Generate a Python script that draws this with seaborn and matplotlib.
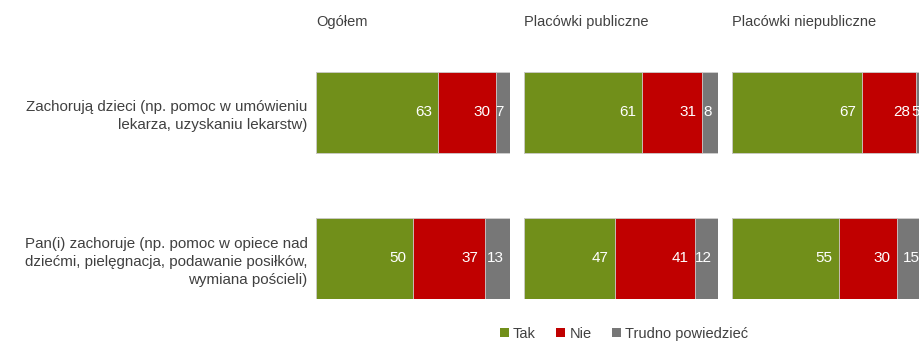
import matplotlib
matplotlib.use("Agg")
import matplotlib.pyplot as plt
import seaborn as sns
import pandas as pd
from matplotlib.patches import Patch

sns.set_theme(style="white")
plt.rcParams['font.family'] = ['Liberation Sans', 'DejaVu Sans']

panels = ["Ogółem", "Placówki publiczne", "Placówki niepubliczne"]
categories = [
    "Zachorują dzieci (np. pomoc w umówieniu\nlekarza, uzyskaniu lekarstw)",
    "Pan(i) zachoruje (np. pomoc w opiece nad\ndziećmi, pielęgnacja, podawanie posiłków,\nwymiana pościeli)",
]
series = ["Tak", "Nie", "Trudno powiedzieć"]
tak = [[63, 50], [61, 47], [67, 55]]
nie = [[30, 37], [31, 41], [28, 30]]
trudno = [[7, 13], [8, 12], [5, 15]]

colors = {"Tak": "#718F1A", "Nie": "#C00000", "Trudno powiedzieć": "#777777"}
text_col = "#404040"

W, H = 920, 342
fig = plt.figure(figsize=(W / 100, H / 100), dpi=100)

bar_w = 81 / 146
for i, title in enumerate(panels):
    left = (316 + 208 * i) / W
    ax = fig.add_axes([left, 1 - 299 / H, 194 / W, 227 / H])
    df = pd.DataFrame({
        "cat": categories,
        "Tak": tak[i], "Nie": nie[i], "Trudno powiedzieć": trudno[i],
    })
    df["c1"] = df["Tak"]
    df["c2"] = df["Tak"] + df["Nie"]
    df["c3"] = df["c2"] + df["Trudno powiedzieć"]
    for col, s in [("c3", "Trudno powiedzieć"), ("c2", "Nie"), ("c1", "Tak")]:
        sns.barplot(data=df, x=col, y="cat", orient="h", color=colors[s],
                    width=bar_w, saturation=1, ax=ax,
                    edgecolor="#D0D0D0", linewidth=0.6)
    for j in range(len(categories)):
        ends = [df.loc[j, "c1"], df.loc[j, "c2"], df.loc[j, "c3"]]
        vals = [df.loc[j, "Tak"], df.loc[j, "Nie"], df.loc[j, "Trudno powiedzieć"]]
        for e, v in zip(ends, vals):
            ax.annotate(f"{v}", xy=(e, j), xytext=(-4.5, 0), textcoords="offset points",
                        ha="right", va="center", color="white", fontsize=11)
    ax.set_xlim(0, 100)
    ax.set_ylim(1 + bar_w / 2, -bar_w / 2)
    ax.set_xlabel("")
    ax.set_ylabel("")
    ax.set_xticks([])
    for sp in ax.spines.values():
        sp.set_visible(False)
    if i == 0:
        ax.tick_params(axis="y", length=0, pad=6, labelsize=10.9, labelcolor=text_col)
        for t in ax.get_yticklabels():
            t.set_linespacing(1.38)
    else:
        ax.set_yticks([])
    fig.text(left, 1 - 22 / H, title, ha="left", va="center", fontsize=10.5, color=text_col)

handles = [Patch(facecolor=colors[s], edgecolor="none") for s in series]
fig.legend(handles, series, loc="center", bbox_to_anchor=(624 / W, 1 - 334 / H), ncol=3,
           frameon=False, fontsize=10.5, handlelength=0.6, handleheight=0.6,
           handletextpad=0.3, columnspacing=1.4, labelcolor=text_col)

fig.savefig("out.png", dpi=100)
